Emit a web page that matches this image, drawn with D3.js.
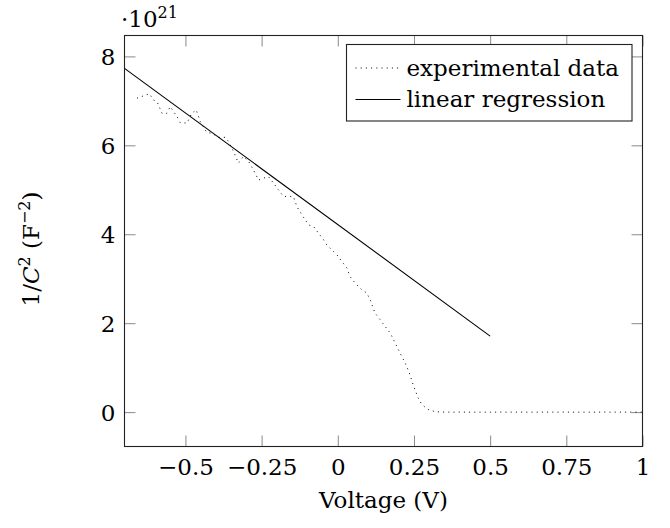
<!DOCTYPE html>
<html>
<head>
<meta charset="utf-8">
<script src="https://cdn.jsdelivr.net/npm/d3@7"></script>
<style>
  body { margin: 0; background: #fff; }
</style>
</head>
<body>
<div id="chart-area"></div>
<script>
// measured C-V data, 1/C^2 in units of 10^21 F^-2
const voltage = [-0.659, -0.643, -0.618, -0.605, -0.593, -0.577, -0.561, -0.550, -0.528, -0.517,
  -0.495, -0.479, -0.465, -0.451, -0.430, -0.413, -0.391, -0.370, -0.359, -0.342,
  -0.326, -0.310, -0.293, -0.277, -0.260, -0.244, -0.228, -0.211, -0.195, -0.178,
  -0.156, -0.146, -0.134, -0.118, -0.096, -0.080, -0.064, -0.047, -0.036, -0.020,
  -0.003, 0.013, 0.030, 0.040, 0.057, 0.079, 0.095, 0.106, 0.122, 0.139,
  0.155, 0.172, 0.188, 0.204, 0.221, 0.235, 0.247, 0.263, 0.276, 0.296,
  0.319, 0.35, 0.5, 0.75, 1.0]
const invCapSq = [7.06, 7.10, 7.16, 7.02, 6.98, 6.72, 6.72, 6.87, 6.65, 6.51,
  6.50, 6.72, 6.80, 6.53, 6.29, 6.27, 6.18, 6.18, 6.09, 5.86,
  5.60, 5.75, 5.64, 5.45, 5.22, 5.26, 5.30, 5.15, 5.00, 4.85,
  4.85, 4.85, 4.62, 4.44, 4.21, 4.18, 4.03, 3.88, 3.76, 3.65,
  3.54, 3.39, 3.24, 3.05, 2.90, 2.75, 2.68, 2.53, 2.23, 2.08,
  1.93, 1.78, 1.56, 1.33, 1.11, 0.88, 0.62, 0.33, 0.17, 0.06,
  0.01, 0.0, 0.0, 0.0, 0.0]

// linear regression end points
const regVoltage = [-0.7, 0.5]
const regInvCapSq = [7.73, 1.71]

const xTicks = [-0.5, -0.25, 0, 0.25, 0.5, 0.75, 1]
const yTicks = [0, 2, 4, 6, 8]
const legendLabels = ["experimental data", "linear regression"]

const FONT = "'DejaVu Serif', serif"
const FS = 23
const W = 670, H = 528
const MARGIN = { LEFT: 124.5, RIGHT: 27.5, TOP: 35.5, BOTTOM: 81.5 }
const WIDTH = W - MARGIN.LEFT - MARGIN.RIGHT
const HEIGHT = H - MARGIN.TOP - MARGIN.BOTTOM
const TICK = 11

const svg = d3.select("#chart-area").append("svg")
  .attr("width", W)
  .attr("height", H)
  .attr("font-family", FONT)

const g = svg.append("g")
  .attr("transform", `translate(${MARGIN.LEFT}, ${MARGIN.TOP})`)

const x = d3.scaleLinear().domain([-0.7, 1]).range([0, WIDTH])
const y = d3.scaleLinear().domain([-0.773, 8.47]).range([HEIGHT, 0])

// inward ticks on all four sides
const styleAxis = sel => {
  sel.attr("font-family", FONT).attr("font-size", FS)
  sel.select(".domain").remove()
  sel.selectAll(".tick line").attr("stroke", "#8a8a8a").attr("stroke-width", 1)
  sel.selectAll(".tick text").attr("fill", "#000")
}

g.append("g")
  .attr("transform", `translate(0, ${HEIGHT})`)
  .call(d3.axisBottom(x).tickValues(xTicks).tickSizeInner(-TICK)
    .tickFormat(d => d3.format("")(d).replace("-", "\u2212")))
  .call(styleAxis)
  .call(a => a.selectAll(".tick text").attr("y", 28).attr("dy", 0))

g.append("g")
  .call(d3.axisTop(x).tickValues(xTicks).tickSizeInner(-TICK).tickFormat(""))
  .call(styleAxis)

g.append("g")
  .call(d3.axisLeft(y).tickValues(yTicks).tickSizeInner(-TICK))
  .call(styleAxis)
  .call(a => a.selectAll(".tick text").attr("x", -9).attr("dy", "0.36em"))

g.append("g")
  .attr("transform", `translate(${WIDTH}, 0)`)
  .call(d3.axisRight(y).tickValues(yTicks).tickSizeInner(-TICK).tickFormat(""))
  .call(styleAxis)

// data
const pts = voltage.map((v, i) => [v, invCapSq[i]])
const line = d3.line().x(d => x(d[0])).y(d => y(d[1]))

g.append("path")
  .datum(pts)
  .attr("d", line)
  .attr("fill", "none")
  .attr("stroke", "#000")
  .attr("stroke-width", 1)
  .attr("stroke-dasharray", "1,4.2")

g.append("path")
  .datum(regVoltage.map((v, i) => [v, regInvCapSq[i]]))
  .attr("d", line)
  .attr("fill", "none")
  .attr("stroke", "#000")
  .attr("stroke-width", 1.1)

// frame
g.append("rect")
  .attr("width", WIDTH)
  .attr("height", HEIGHT)
  .attr("fill", "none")
  .attr("stroke", "#222")
  .attr("stroke-width", 1.1)

// legend
const lg = svg.append("g").attr("transform", "translate(346.5, 44.5)")
lg.append("rect")
  .attr("width", 285.5)
  .attr("height", 76.5)
  .attr("fill", "#fff")
  .attr("stroke", "#222")
  .attr("stroke-width", 1.1)

legendLabels.forEach((lab, i) => {
  const yy = 23.5 + i * 31.5
  lg.append("line")
    .attr("x1", 9).attr("x2", 54)
    .attr("y1", yy).attr("y2", yy)
    .attr("stroke", "#000")
    .attr("stroke-width", 1)
    .attr("stroke-dasharray", i === 0 ? "1,4.2" : null)
  lg.append("text")
    .attr("x", 60)
    .attr("y", yy + 7.5)
    .attr("font-size", FS)
    .text(lab)
})

// x label
svg.append("text")
  .attr("x", MARGIN.LEFT + WIDTH / 2)
  .attr("y", 508)
  .attr("font-size", FS)
  .attr("text-anchor", "middle")
  .text("Voltage (V)")

// y label
const yl = svg.append("text")
  .attr("transform", `translate(39, 249) rotate(-90)`)
  .attr("font-size", FS)
  .attr("text-anchor", "middle")
yl.append("tspan").text("1/")
yl.append("tspan").attr("font-style", "italic").text("C")
yl.append("tspan").attr("font-size", 16).attr("dy", -9).text("2")
yl.append("tspan").attr("dy", 9).text(" (F")
yl.append("tspan").attr("font-size", 16).attr("dy", -9).text("\u22122")
yl.append("tspan").attr("dy", 9).text(")")

// scale factor
const sf = svg.append("text")
  .attr("x", 121)
  .attr("y", 27)
  .attr("font-size", FS)
sf.append("tspan").text("\u00b710")
sf.append("tspan").attr("font-size", 16).attr("dy", -9).text("21")
</script>
</body>
</html>
